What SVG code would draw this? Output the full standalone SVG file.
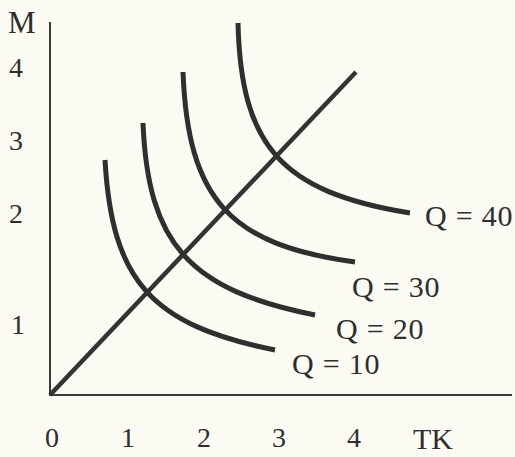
<svg xmlns="http://www.w3.org/2000/svg" width="515" height="457" viewBox="0 0 515 457">
<style>
.t{font-family:"Liberation Serif","Times New Roman",serif;fill:#2e2e2e}
.q{font-size:30px;letter-spacing:0.8px}
.n{font-size:28px}
.ax{stroke:#3a3a3a;stroke-width:2;fill:none}
.cv{stroke:#2f2f2f;stroke-width:5;fill:none;stroke-linecap:butt}
.dg{stroke:#333;stroke-width:4.5;fill:none}
</style>
<rect width="515" height="457" fill="#fbfbf4"/>
<g id="axes">
<line class="ax" x1="50" y1="22" x2="50" y2="396"/>
<line class="ax" x1="49" y1="395" x2="512" y2="395"/>
</g>
<g id="connectors">
<line class="dg" x1="50" y1="395" x2="356" y2="72"/>
</g>
<g id="q10"><path class="cv" d="M105,160 C112,280 150,325 275,350"/><text class="t q" x="292" y="374">Q = 10</text></g>
<g id="q20"><path class="cv" d="M143,123 C148,245 190,290 315,315"/><text class="t q" x="336" y="339">Q = 20</text></g>
<g id="q30"><path class="cv" d="M183,72 C188,200 230,245 355,262"/><text class="t q" x="352" y="297">Q = 30</text></g>
<g id="q40"><path class="cv" d="M238,23 C241,145 280,192 410,213"/><text class="t q" x="425" y="226">Q = 40</text></g>
<g id="labels">
<text class="t" x="8" y="33" font-size="31">M</text>
<text class="t n" x="9" y="77">4</text>
<text class="t n" x="9" y="150">3</text>
<text class="t n" x="9" y="223">2</text>
<text class="t n" x="11" y="334">1</text>
<text class="t n" x="45" y="447">0</text>
<text class="t n" x="121" y="447">1</text>
<text class="t n" x="197" y="447">2</text>
<text class="t n" x="272" y="447">3</text>
<text class="t n" x="347" y="447">4</text>
<text class="t" x="413" y="449" font-size="30">TK</text>
</g>
</svg>
